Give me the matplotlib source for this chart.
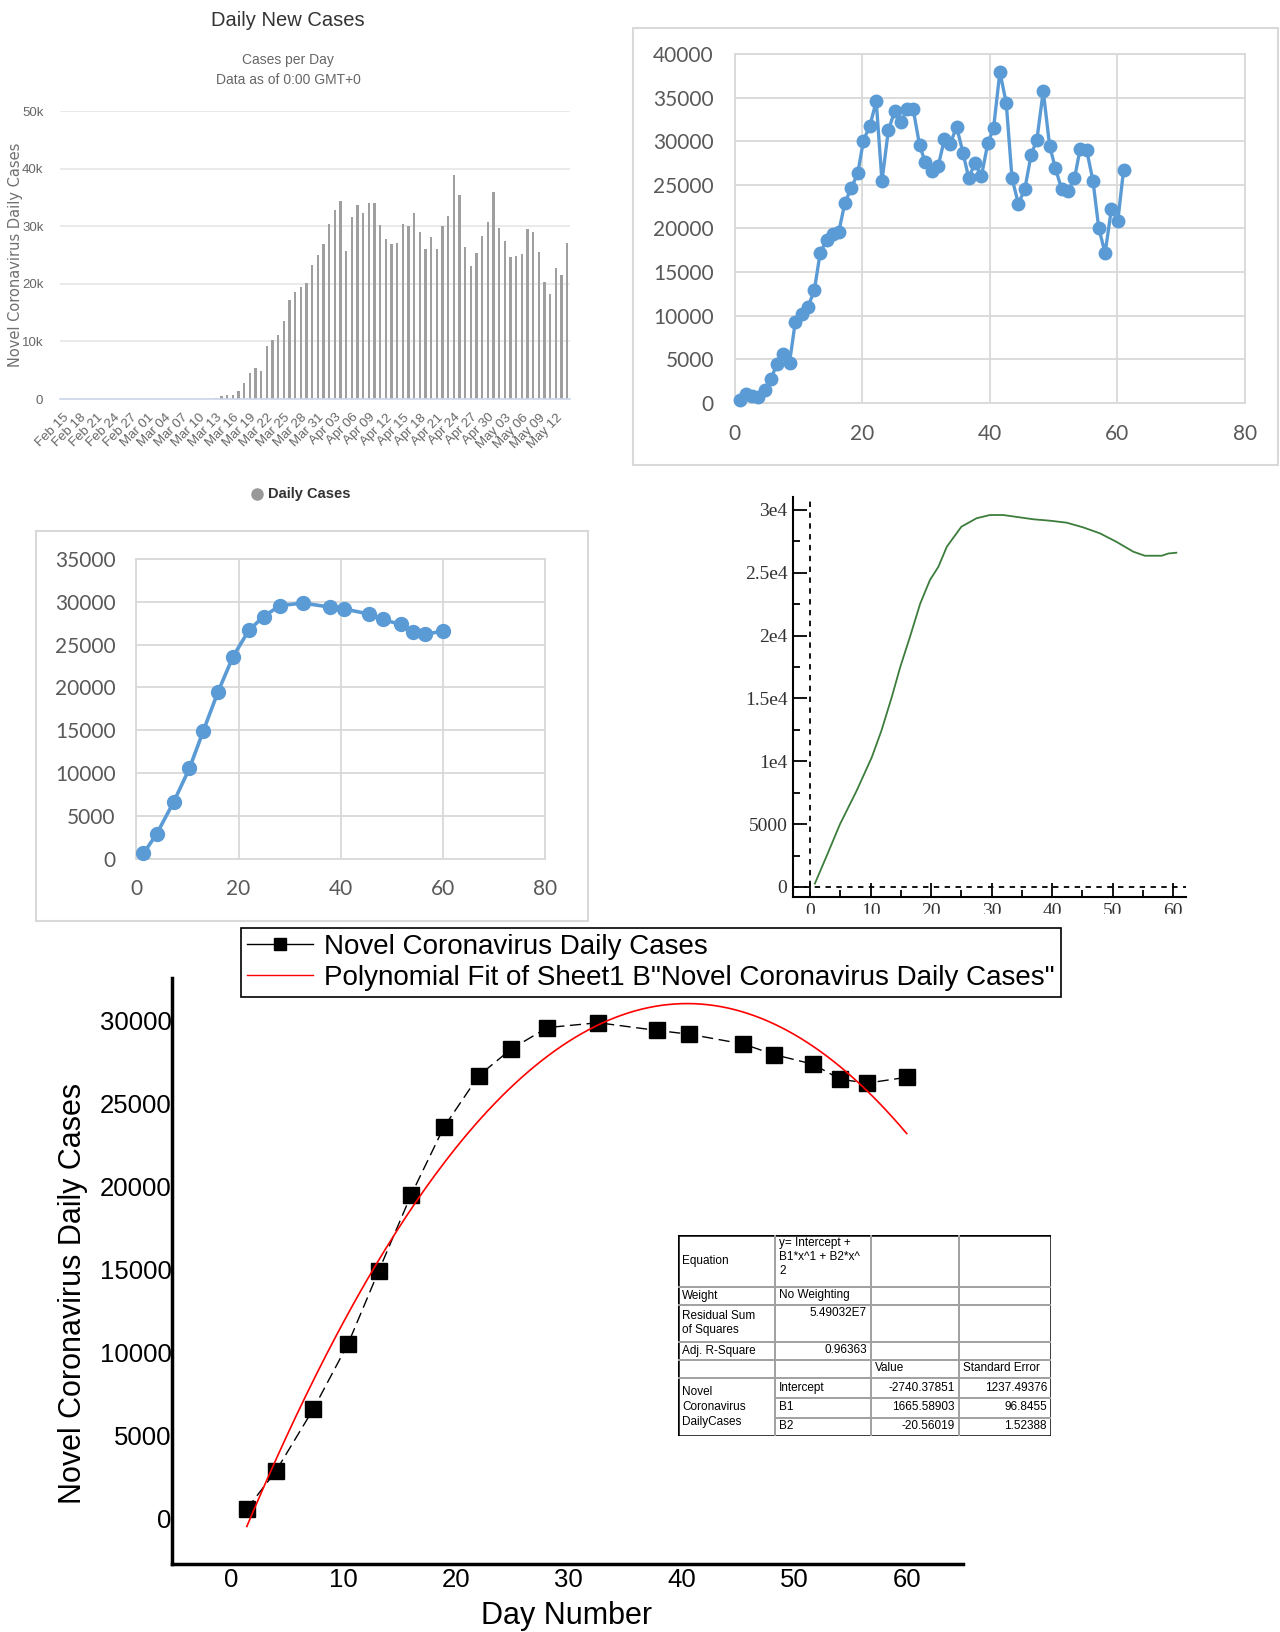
import matplotlib.pyplot as plt
import numpy as np
import pandas as pd
from matplotlib.lines import Line2D
from matplotlib.patches import Rectangle
from matplotlib.ticker import MultipleLocator

W, H = 1280, 1632


def rect(x0, y0, x1, y1):
    # pixel box (top-left origin) -> figure fraction rect
    return [x0 / W, 1 - y1 / H, (x1 - x0) / W, (y1 - y0) / H]


def fx(x):
    return x / W


def fy(y):
    return 1 - y / H


# ---- daily new cases (bar chart), Feb 15 - May 14 ----
bar_start = "2020-02-15"
bar_end = "2020-05-14"
bar_zero_days = 27  # no cases reported before Mar 13
bar_cases = [170, 470, 640, 640, 1340, 2800, 4550, 5420, 4840, 9210,
             10200, 11140, 13470, 17260, 18660, 19420, 20120, 23210, 25070, 26940,
             30440, 32830, 34460, 25720, 31660, 33700, 32360, 34000, 34000, 30200,
             27700, 26940, 27110, 30440, 29970, 32360, 29040, 26010, 28100, 26010,
             29970, 31840, 38950, 35390, 26420, 23150, 25310, 28340, 30730, 35860,
             29740, 27410, 24610, 24780, 25250, 29500, 29040, 25480, 20290, 18190,
             22740, 21460, 27110]
bar_yticks = ["0", "10k", "20k", "30k", "40k", "50k"]

# ---- daily cases by day number ----
daily_day = [0.8, 1.8, 2.7, 3.7, 4.7, 5.7, 6.6, 7.6, 8.6, 9.5,
             10.5, 11.5, 12.5, 13.4, 14.4, 15.4, 16.3, 17.3, 18.3, 19.3,
             20.2, 21.2, 22.2, 23.1, 24.1, 25.1, 26.1, 27.0, 28.0, 29.0,
             29.9, 30.9, 31.9, 32.9, 33.8, 34.8, 35.8, 36.7, 37.7, 38.7,
             39.7, 40.6, 41.6, 42.6, 43.5, 44.5, 45.5, 46.5, 47.4, 48.4,
             49.4, 50.3, 51.3, 52.3, 53.3, 54.2, 55.2, 56.2, 57.1, 58.1,
             59.1, 60.1, 61.0]
daily_cases = [300, 960, 770, 690, 1450, 2760, 4400, 5550, 4600, 9270,
               10150, 10990, 12940, 17150, 18680, 19330, 19530, 22970, 24660, 26300,
               30080, 31750, 34580, 25420, 31240, 33460, 32200, 33650, 33650, 29540,
               27560, 26530, 27100, 30240, 29660, 31680, 28700, 25810, 27460, 26000,
               29740, 31460, 37970, 34330, 25740, 22830, 24480, 28460, 30160, 35750,
               29470, 26900, 24480, 24290, 25740, 29160, 29010, 25440, 20080, 17150,
               22280, 20870, 26720]

# ---- averaged daily cases ----
avg_day = [1.4, 4.0, 7.3, 10.4, 13.1, 16.0, 18.9, 22.0, 24.9, 28.1,
           32.6, 37.8, 40.7, 45.5, 48.2, 51.7, 54.1, 56.5, 60.0]
avg_cases = [600, 2900, 6600, 10550, 14900, 19500, 23560, 26660, 28270, 29550,
             29840, 29380, 29150, 28560, 27930, 27340, 26440, 26210, 26560]

# ---- smoothed curve ----
smooth_day = [0.8, 2.75, 4.95, 7.7, 10.2, 11.8, 13.5, 14.9, 16.5, 18.2,
              19.8, 21.2, 22.6, 25.0, 27.5, 29.7, 31.9, 34.7, 36.9, 39.6,
              42.4, 45.1, 47.9, 50.6, 53.4, 55.3, 58.1, 59.2, 60.5]
smooth_cases = [270, 2470, 5000, 7660, 10320, 12450, 15110, 17500, 19890, 22550,
                24420, 25480, 27080, 28670, 29340, 29600, 29600, 29410, 29260, 29150,
                28990, 28620, 28140, 27470, 26680, 26360, 26360, 26540, 26600]
smooth_yticks = ["0", "5000", "1e4", "1.5e4", "2e4", "2.5e4", "3e4"]

# ---- quadratic fit results ----
fit_intercept = -2740.37851
fit_b1 = 1665.58903
fit_b2 = -20.56019

narrow = ["Liberation Sans Narrow", "Liberation Sans"]

fig = plt.figure(figsize=(W / 100, H / 100), dpi=100)

# =========== Daily New Cases bars ===========
dates = pd.date_range(bar_start, bar_end)
bar_values = [0] * bar_zero_days + bar_cases
pos = np.arange(len(dates))

ax1 = fig.add_axes(rect(60, 111, 570, 399))
ax1.bar(pos, bar_values, width=0.42, color="#9f9f9f", zorder=2)
ax1.set_xlim(-0.5, len(dates) - 0.5)
ax1.set_ylim(0, 50000)
ax1.set_yticks(np.arange(0, 50001, 10000))
ax1.set_yticklabels(bar_yticks, family=narrow)
ax1.grid(axis="y", color="#e6e6e6", lw=1.2, zorder=0)
ax1.set_axisbelow(True)
for s in ["top", "right", "left"]:
    ax1.spines[s].set_visible(False)
ax1.spines["bottom"].set_color("#ccd6eb")
ax1.spines["bottom"].set_linewidth(1.2)
ax1.set_xticks(pos[::3])
ax1.set_xticklabels([d.strftime("%b %d") for d in dates[::3]], rotation=45,
                    ha="right", va="top", rotation_mode="anchor", family=narrow)
ax1.tick_params(axis="x", length=0, labelsize=9.5, labelcolor="#666666", pad=9)
ax1.tick_params(axis="y", length=0, labelsize=9.5, labelcolor="#666666", pad=12)

fig.text(fx(288), fy(21), "Daily New Cases", ha="center", va="center",
         fontsize=14.5, color="#333333", family=narrow)
fig.text(fx(288), fy(60), "Cases per Day", ha="center", va="center",
         fontsize=10, color="#666666", family=narrow)
fig.text(fx(288), fy(80), "Data as of 0:00 GMT+0", ha="center", va="center",
         fontsize=10, color="#666666", family=narrow)
fig.text(fx(16), fy(255), "Novel Coronavirus Daily Cases", rotation=90,
         ha="center", va="center", fontsize=10.5, color="#707070")
fig.add_artist(Line2D([fx(257)], [fy(494)], marker="o", ms=8, color="#999999",
                      lw=0, transform=fig.transFigure))
fig.text(fx(268), fy(494), "Daily Cases", ha="left", va="center",
         fontsize=10.5, color="#333333", weight="bold", family=narrow)


def excel_axes(ax, ymax):
    ax.set_xlim(0, 80)
    ax.set_ylim(0, ymax)
    ax.xaxis.set_major_locator(MultipleLocator(20))
    ax.yaxis.set_major_locator(MultipleLocator(5000))
    ax.grid(color="#d9d9d9", lw=1.3)
    ax.set_axisbelow(True)
    for s in ax.spines.values():
        s.set_color("#d9d9d9")
        s.set_linewidth(1.3)
    ax.tick_params(length=0, labelsize=15, labelcolor="#595959", pad=15)
    for lab in ax.get_xticklabels() + ax.get_yticklabels():
        lab.set_family("Lato")


# =========== daily cases, Excel style ===========
fig.add_artist(Rectangle((fx(633), fy(465)), (1278 - 633) / W, (465 - 28) / H,
                         transform=fig.transFigure, fill=False,
                         edgecolor="#d9d9d9", lw=1.5))
ax2 = fig.add_axes(rect(734.7, 54, 1244.7, 402.8))
ax2.plot(daily_day, daily_cases, "-o", color="#5b9bd5", lw=2.4, ms=9,
         clip_on=False, zorder=3)
excel_axes(ax2, 40000)

# =========== averaged cases, Excel style ===========
fig.add_artist(Rectangle((fx(36), fy(921)), (588 - 36) / W, (921 - 531) / H,
                         transform=fig.transFigure, fill=False,
                         edgecolor="#d9d9d9", lw=1.5))
ax3 = fig.add_axes(rect(136.3, 558.9, 545.3, 858.6))
ax3.plot(avg_day, avg_cases, "-o", color="#5b9bd5", lw=2.6, ms=10,
         clip_on=False, zorder=3)
excel_axes(ax3, 35000)

# =========== smoothed curve ===========
ax4 = fig.add_axes(rect(793, 497, 1186, 897))
ax4.plot(smooth_day, smooth_cases, color="#3c7d3c", lw=1.3)
ax4.set_xlim(-2.81, 62.1)
ax4.set_ylim(-796, 31034)
ax4.axvline(0, color="black", lw=1.3, ls=(0, (3, 3)))
ax4.axhline(0, color="black", lw=1.3, ls=(0, (3, 3)))
for s in ["top", "right"]:
    ax4.spines[s].set_visible(False)
for s in ["left", "bottom"]:
    ax4.spines[s].set_linewidth(1.5)
ax4.xaxis.set_major_locator(MultipleLocator(10))
ax4.xaxis.set_minor_locator(MultipleLocator(5))
ax4.set_yticks(np.arange(0, 30001, 5000))
ax4.set_yticklabels(smooth_yticks)
ax4.yaxis.set_minor_locator(MultipleLocator(2500))
ax4.tick_params(which="major", direction="in", length=10, width=1.3,
                labelsize=14, labelcolor="#333333", pad=4)
ax4.tick_params(which="minor", direction="in", length=5, width=1.3)
for lab in ax4.get_xticklabels() + ax4.get_yticklabels():
    lab.set_family("Liberation Serif")
# the bottom strip of the x labels is cut off
fig.add_artist(Rectangle((fx(780), fy(924)), (1210 - 780) / W, (924 - 914) / H,
                         transform=fig.transFigure, color="white", zorder=10))

# =========== polynomial fit ===========
ax5 = fig.add_axes(rect(171.7, 978, 963, 1564))
fit_x = np.linspace(avg_day[0], avg_day[-1], 200)
fit_y = fit_intercept + fit_b1 * fit_x + fit_b2 * fit_x ** 2
ax5.plot(avg_day, avg_cases, color="black", lw=1, ls=(0, (8, 4)), marker="s",
         ms=12, zorder=3)
ax5.plot(fit_x, fit_y, color="red", lw=1.2, zorder=4)
ax5.set_xlim(-5.27, 65.0)
ax5.set_ylim(-2706, 32530)
ax5.xaxis.set_major_locator(MultipleLocator(10))
ax5.yaxis.set_major_locator(MultipleLocator(5000))
for s in ["top", "right"]:
    ax5.spines[s].set_visible(False)
for s in ["left", "bottom"]:
    ax5.spines[s].set_linewidth(2.5)
ax5.tick_params(length=0, labelsize=18.5)
ax5.tick_params(axis="y", pad=0)
ax5.tick_params(axis="x", pad=3)
for lab in ax5.get_xticklabels() + ax5.get_yticklabels():
    lab.set_family("Liberation Sans")

fig.text(fx(73), fy(1293), "Novel Coronavirus Daily Cases", rotation=90,
         ha="center", va="center", fontsize=22, family="Liberation Sans")
fig.text(fx(567), fy(1616), "Day Number", ha="center", va="center",
         fontsize=22, family="Liberation Sans")

handles = [Line2D([], [], color="black", lw=1, marker="s", ms=8),
           Line2D([], [], color="red", lw=1)]
labels = ["Novel Coronavirus Daily Cases",
          'Polynomial Fit of Sheet1 B"Novel Coronavirus Daily Cases"']
leg = fig.legend(handles, labels, loc="upper left",
                 bbox_to_anchor=(fx(241), fy(928)), frameon=True, fancybox=False,
                 edgecolor="black", handlelength=2.4,
                 borderpad=0.2, labelspacing=0.2, handletextpad=0.4,
                 borderaxespad=0, prop={"family": "Liberation Sans", "size": 20})
leg.get_frame().set_linewidth(1.2)
leg.get_frame().set_alpha(1)

# fit statistics table
cols = [678, 775, 871, 959, 1051]
rows = [1235, 1287, 1305, 1342, 1360, 1378, 1398, 1418, 1436]
tax = fig.add_axes(rect(cols[0], rows[0], cols[-1], rows[-1]))
tax.set_xlim(cols[0], cols[-1])
tax.set_ylim(rows[-1], rows[0])
tax.axis("off")
tax.add_patch(Rectangle((cols[0], rows[0]), cols[-1] - cols[0], rows[-1] - rows[0],
                        facecolor="white", edgecolor="none"))
for i, r in enumerate(rows[1:-1], start=1):
    x_start = cols[1] if i >= 6 else cols[0]
    tax.plot([x_start, cols[-1]], [r, r], color="#a0a0a0", lw=1.4)
for c in cols[1:-1]:
    tax.plot([c, c], [rows[0], rows[-1]], color="#a0a0a0", lw=1.4)
tax.add_patch(Rectangle((cols[0], rows[0]), cols[-1] - cols[0], rows[-1] - rows[0],
                        fill=False, edgecolor="black", lw=1.8))

tfont = dict(fontsize=8.5, family="Liberation Sans", va="center")
left_cells = [
    (0, 1261, "Equation"),
    (1, 1243, "y= Intercept +"),
    (1, 1257, "B1*x^1 + B2*x^"),
    (1, 1271, "2"),
    (0, 1296, "Weight"),
    (1, 1295, "No Weighting"),
    (0, 1316, "Residual Sum"),
    (0, 1330, "of Squares"),
    (0, 1351, "Adj. R-Square"),
    (2, 1368, "Value"),
    (3, 1368, "Standard Error"),
    (0, 1392, "Novel"),
    (0, 1407, "Coronavirus"),
    (0, 1422, "DailyCases"),
    (1, 1388, "Intercept"),
    (1, 1407, "B1"),
    (1, 1426, "B2"),
]
right_cells = [
    (1, 1313, "5.49032E7"),
    (1, 1350, "0.96363"),
    (2, 1388, "-2740.37851"),
    (3, 1388, "1237.49376"),
    (2, 1407, "1665.58903"),
    (3, 1407, "96.8455"),
    (2, 1426, "-20.56019"),
    (3, 1426, "1.52388"),
]
for col, y, txt in left_cells:
    tax.text(cols[col] + 4, y, txt, ha="left", **tfont)
for col, y, txt in right_cells:
    tax.text(cols[col + 1] - 4, y, txt, ha="right", **tfont)

fig.savefig("out.png", dpi=100)
